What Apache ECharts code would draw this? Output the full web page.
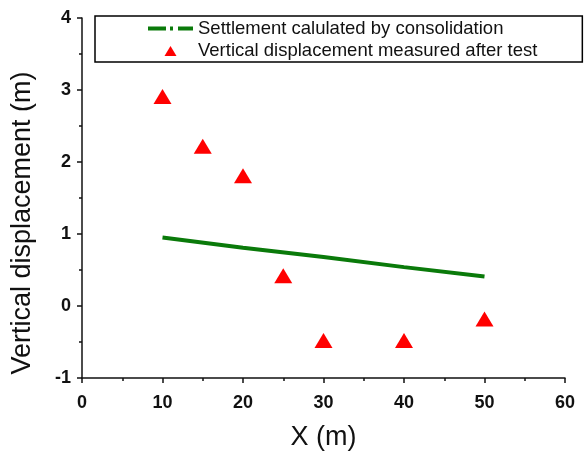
<!DOCTYPE html>
<html>
<head>
<meta charset="utf-8">
<script src="https://cdn.jsdelivr.net/npm/echarts@6/dist/echarts.min.js"></script>
<style>
  html, body { margin: 0; padding: 0; background: #fff; }
  #main { width: 585px; height: 452px; }
</style>
</head>
<body>
<div id="main"></div>
<script>
const lineX = [10, 20, 30, 40, 50];
const lineY = [0.95, 0.81, 0.68, 0.54, 0.41];
const pointX = [10, 15, 20, 25, 30, 40, 50];
const pointY = [2.91, 2.22, 1.81, 0.42, -0.48, -0.48, -0.18];
const lineName = 'Settlement calulated by consolidation';
const pointName = 'Vertical displacement measured after test';

const chart = echarts.init(document.getElementById('main'));
const font = 'Liberation Sans, Arial, sans-serif';

const option = {
    animation: false,
    grid: { left: 82, right: 20, top: 18, bottom: 74, outerBoundsMode: 'none' },
    legend: {
        orient: 'vertical',
        left: 95,
        top: 16,
        padding: [3, 45, 2, 53],
        borderColor: '#000',
        borderWidth: 1.5,
        itemWidth: 45,
        itemHeight: 12,
        itemGap: 3,
        textStyle: { fontFamily: font, fontSize: 18.5, color: '#111' },
        data: [
            {
                name: lineName,
                icon: 'path://M0,0h18v4h-18z M22,0h3v4h-3z M30,0h15v4h-15z'
            },
            {
                name: pointName,
                // corner moves keep the triangle from stretching across the icon box
                icon: 'path://M0,0 M45,12 M16.5,11.5 L22.5,1.5 L28.5,11.5 Z',
                itemStyle: { color: '#ff0000' }
            }
        ]
    },
    xAxis: {
        type: 'value',
        min: 0,
        max: 60,
        interval: 10,
        name: 'X (m)',
        nameLocation: 'middle',
        nameGap: 46,
        nameTextStyle: { fontFamily: font, fontSize: 27, color: '#111' },
        axisLine: { onZero: false, lineStyle: { color: '#111', width: 1.5 } },
        axisTick: { length: 5, lineStyle: { color: '#111', width: 1.5 } },
        minorTick: { show: true, splitNumber: 2, length: 3, lineStyle: { color: '#111', width: 1.5 } },
        axisLabel: { fontFamily: font, fontSize: 18, fontWeight: 'bold', color: '#111', margin: 16 },
        splitLine: { show: false }
    },
    yAxis: {
        type: 'value',
        min: -1,
        max: 4,
        interval: 1,
        name: 'Vertical displacement (m)',
        nameLocation: 'middle',
        nameGap: 46,
        nameTextStyle: { fontFamily: font, fontSize: 27, color: '#111', padding: [0, 50, 0, 0] },
        axisLine: { show: true, onZero: false, lineStyle: { color: '#111', width: 1.5 } },
        axisTick: { show: true, length: 5, lineStyle: { color: '#111', width: 1.5 } },
        minorTick: { show: true, splitNumber: 2, length: 3, lineStyle: { color: '#111', width: 1.5 } },
        axisLabel: { fontFamily: font, fontSize: 18, fontWeight: 'bold', color: '#111', margin: 11 },
        splitLine: { show: false }
    },
    series: [
        {
            name: lineName,
            type: 'line',
            data: lineX.map((x, i) => [x, lineY[i]]),
            showSymbol: false,
            symbol: 'none',
            lineStyle: { color: '#0a7a0a', width: 4 },
            itemStyle: { color: '#0a7a0a' }
        },
        {
            name: pointName,
            type: 'scatter',
            data: pointX.map((x, i) => [x, pointY[i]]),
            symbol: 'triangle',
            symbolSize: [18, 15],
            itemStyle: { color: '#ff0000', opacity: 1 }
        }
    ]
};

chart.setOption(option);
</script>
</body>
</html>
